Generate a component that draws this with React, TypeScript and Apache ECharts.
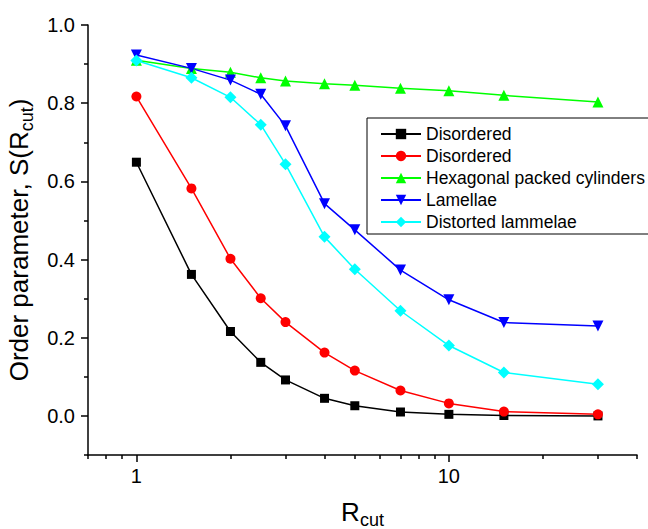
import React, { useEffect, useRef } from 'react';
import * as echarts from 'echarts';

const rcut = [1, 1.5, 2, 2.5, 3, 4, 5, 7, 10, 15, 30];
const disorderedA = [0.649, 0.362, 0.216, 0.137, 0.092, 0.045, 0.026, 0.010, 0.004, 0.001, 0.000];
const disorderedB = [0.817, 0.582, 0.402, 0.301, 0.240, 0.162, 0.116, 0.065, 0.032, 0.011, 0.004];
const hexagonal = [0.910, 0.889, 0.879, 0.865, 0.857, 0.850, 0.846, 0.838, 0.832, 0.820, 0.803];
const lamellae = [0.923, 0.889, 0.859, 0.823, 0.742, 0.543, 0.476, 0.373, 0.297, 0.239, 0.230];
const distorted = [0.909, 0.865, 0.815, 0.745, 0.644, 0.458, 0.375, 0.269, 0.180, 0.111, 0.081];

const xMajorTicks = [1, 10];
const xMinorTicks = [0.7, 0.8, 0.9, 2, 3, 4, 5, 6, 7, 8, 9, 20, 30, 40];
const yMajorTicks = [0, 0.2, 0.4, 0.6, 0.8, 1.0];
const yMinorTicks = [-0.1, 0.1, 0.3, 0.5, 0.7, 0.9];

const FONT = 'Liberation Sans, Arial, sans-serif';

const seriesDefs = [
  { name: 'Disordered A', label: 'Disordered', values: disorderedA, color: '#000000', symbol: 'rect', size: 9, rotate: 0 },
  { name: 'Disordered B', label: 'Disordered', values: disorderedB, color: '#ff0000', symbol: 'circle', size: 10, rotate: 0 },
  { name: 'Hexagonal packed cylinders', label: 'Hexagonal packed cylinders', values: hexagonal, color: '#00ff00', symbol: 'triangle', size: 11, rotate: 0 },
  { name: 'Lamellae', label: 'Lamellae', values: lamellae, color: '#0000ff', symbol: 'triangle', size: 11, rotate: 180 },
  { name: 'Distorted lammelae', label: 'Distorted lammelae', values: distorted, color: '#00ffff', symbol: 'diamond', size: 12, rotate: 0 },
];

const titleRich = {
  a: { fontSize: 26, fontFamily: FONT, color: '#000', verticalAlign: 'middle' },
  b: { fontSize: 18, fontFamily: FONT, color: '#000', verticalAlign: 'middle', padding: [16, 0, 0, 0] },
};

export default function App() {
  const ref = useRef<HTMLDivElement>(null);
  useEffect(() => {
    if (!ref.current) return;
    const chart = echarts.init(ref.current, null, { renderer: 'svg' });
    const axisLineStyle = { color: '#000', width: 1.5 };
    const option: any = {
      animation: false,
      backgroundColor: '#fff',
      grid: { left: 88, right: 11, top: 25, bottom: 74, containLabel: false, outerBoundsMode: 'none' },
      legend: {
        orient: 'vertical',
        left: 367,
        top: 118,
        padding: [7, 30, 3, 13],
        itemWidth: 40,
        itemHeight: 13,
        itemGap: 4,
        borderColor: '#000',
        borderWidth: 1,
        backgroundColor: '#fff',
        textStyle: { fontSize: 17.5, fontFamily: FONT, color: '#000', lineHeight: 18 },
        data: seriesDefs.map((s) => s.name),
        formatter: (name: string) => {
          const d = seriesDefs.find((s) => s.name === name);
          return d ? d.label : name;
        },
      },
      xAxis: [
        {
          type: 'log',
          logBase: 10,
          min: 0.7,
          max: 40,
          position: 'bottom',
          axisLine: { show: true, onZero: false, lineStyle: axisLineStyle },
          axisTick: { show: true, customValues: xMajorTicks, length: 7, inside: false, lineStyle: axisLineStyle },
          axisLabel: {
            show: true,
            customValues: xMajorTicks,
            formatter: (v: number) => String(Math.round(v)),
            fontSize: 20,
            fontFamily: FONT,
            color: '#000',
            margin: 11,
          },
          splitLine: { show: false },
          minorTick: { show: false },
          name: '{a|R}{b|cut}',
          nameLocation: 'middle',
          nameGap: 40,
          nameTextStyle: { rich: titleRich },
        },
        {
          type: 'log',
          logBase: 10,
          min: 0.7,
          max: 40,
          position: 'bottom',
          offset: 0,
          axisLine: { show: false, onZero: false },
          axisTick: { show: true, customValues: xMinorTicks, length: 4, inside: false, lineStyle: axisLineStyle },
          axisLabel: { show: false },
          splitLine: { show: false },
        },
      ],
      yAxis: [
        {
          type: 'value',
          min: -0.1,
          max: 1.0,
          position: 'left',
          axisLine: { show: true, onZero: false, lineStyle: axisLineStyle },
          axisTick: { show: true, customValues: yMajorTicks, length: 7, inside: false, lineStyle: axisLineStyle },
          axisLabel: {
            show: true,
            customValues: yMajorTicks,
            formatter: (v: number) => v.toFixed(1),
            fontSize: 20,
            fontFamily: FONT,
            color: '#000',
            margin: 13,
          },
          splitLine: { show: false },
          name: '{a|Order parameter, S(R}{b|cut}{a|)}',
          nameLocation: 'middle',
          nameGap: 44,
          nameTextStyle: { rich: titleRich },
        },
        {
          type: 'value',
          min: -0.1,
          max: 1.0,
          position: 'left',
          offset: 0,
          axisLine: { show: false, onZero: false },
          axisTick: { show: true, customValues: yMinorTicks, length: 4, inside: false, lineStyle: axisLineStyle },
          axisLabel: { show: false },
          splitLine: { show: false },
        },
      ],
      series: seriesDefs.map((s) => ({
        name: s.name,
        type: 'line',
        xAxisIndex: 0,
        yAxisIndex: 0,
        data: rcut.map((x, i) => [x, s.values[i]]),
        symbol: s.symbol,
        symbolSize: s.size,
        symbolRotate: s.rotate,
        showAllSymbol: true,
        color: s.color,
        lineStyle: { color: s.color, width: 1.5 },
        itemStyle: { color: s.color },
        emphasis: { disabled: true },
      })),
    };
    chart.setOption(option);
    return () => chart.dispose();
  }, []);
  return <div ref={ref} style={{ position: 'absolute', left: 0, top: 0, width: 648, height: 529 }} />;
}
